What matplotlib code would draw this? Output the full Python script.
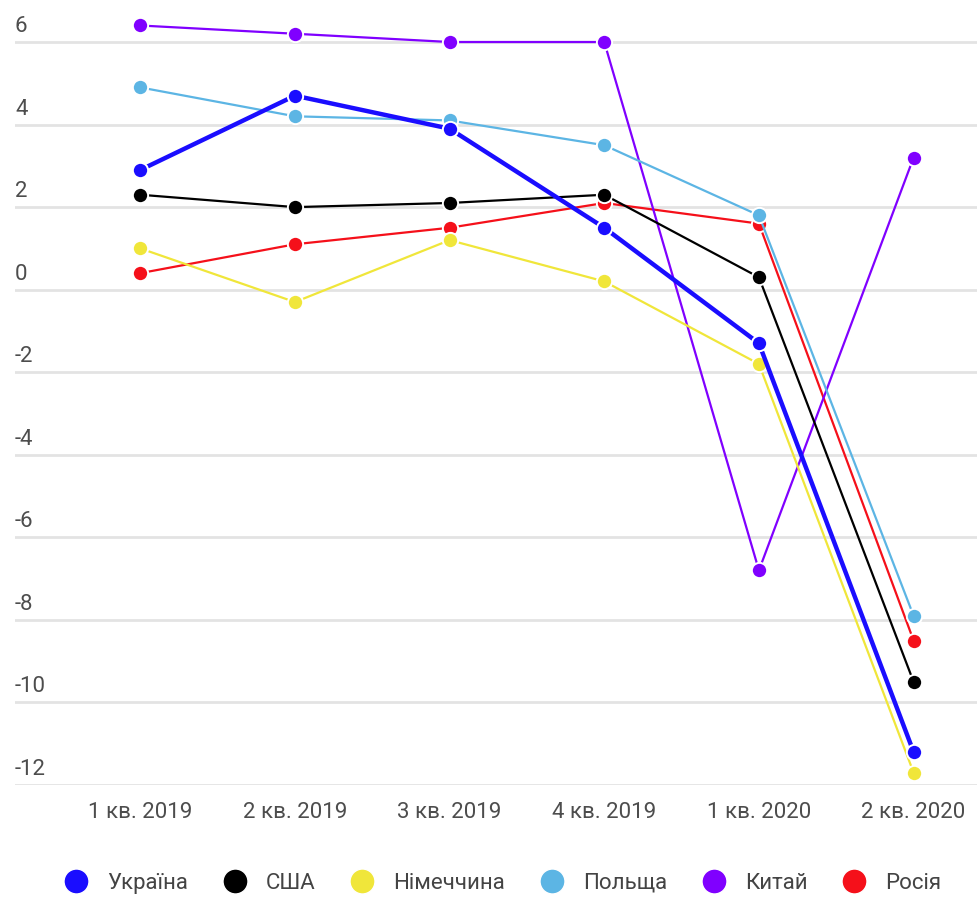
import matplotlib.pyplot as plt
from matplotlib.lines import Line2D
import matplotlib.transforms as mtransforms

plt.rcParams['font.family'] = ['Roboto', 'DejaVu Sans']

quarters = ['1 кв. 2019', '2 кв. 2019', '3 кв. 2019', '4 кв. 2019', '1 кв. 2020', '2 кв. 2020']
countries = ['Україна', 'США', 'Німеччина', 'Польща', 'Китай', 'Росія']
colors = ['#1a0dff', '#000000', '#f0e63a', '#5cb5e4', '#8000ff', '#f5101a']

ukraine = [2.9, 4.7, 3.9, 1.5, -1.3, -11.2]
usa = [2.3, 2.0, 2.1, 2.3, 0.3, -9.5]
germany = [1.0, -0.3, 1.2, 0.2, -1.8, -11.7]
poland = [4.9, 4.2, 4.1, 3.5, 1.8, -7.9]
china = [6.4, 6.2, 6.0, 6.0, -6.8, 3.2]
russia = [0.4, 1.1, 1.5, 2.1, 1.6, -8.5]
series = [ukraine, usa, germany, poland, china, russia]
yticks = [6, 4, 2, 0, -2, -4, -6, -8, -10, -12]

fig = plt.figure(figsize=(9.77, 8.97), dpi=100)
ax = fig.add_axes([15 / 977, 112 / 897, 962 / 977, 769 / 897])

x = list(range(len(quarters)))
# draw back to front so Ukraine ends on top
for i in reversed(range(len(countries))):
    lw = 3.2 if i == 0 else 1.6
    ax.plot(x, series[i], color=colors[i], lw=lw, marker='o', markersize=11,
            markeredgecolor='white', markeredgewidth=1.4, zorder=3 + (len(countries) - i),
            solid_capstyle='round')

ax.set_xlim(-0.81, 5.41)
ax.set_ylim(-12, 6.63)

for v in yticks:
    ax.axhline(v, color='#e3e3e3', lw=2, zorder=1)
trans = mtransforms.blended_transform_factory(ax.transAxes, ax.transData)
for v in yticks:
    ax.text(0.0, v + 0.12, str(v), transform=trans, ha='left', va='bottom',
            fontsize=16, color='#4d4d4d', zorder=2)

ax.set_yticks([])
ax.set_xticks(x)
ax.set_xticklabels(quarters, fontsize=16, color='#4d4d4d')
ax.tick_params(axis='x', length=0, pad=12)
for s in ax.spines.values():
    s.set_visible(False)

handles = [Line2D([], [], ls='none', marker='o', markersize=18, color=c,
                  markeredgecolor='white', markeredgewidth=1.0) for c in colors]
fig.legend(handles, countries, loc='center', bbox_to_anchor=(0.515, 14 / 897),
           ncol=6, frameon=False, fontsize=16, handlelength=1.0, handletextpad=0.9,
           columnspacing=1.6, labelcolor='#444444')

fig.savefig('out.png', dpi=100)
